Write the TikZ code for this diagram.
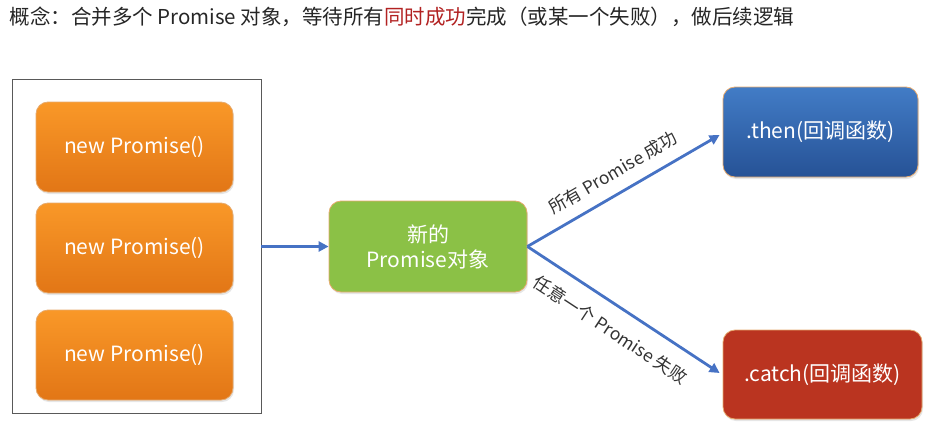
\documentclass[tikz,border=0pt]{standalone}
\usepackage{fontspec}
\setmainfont{Noto Sans CJK SC}
\usetikzlibrary{arrows.meta,shadows}
\definecolor{flowblue}{RGB}{70,114,196}
\definecolor{titlered}{RGB}{178,34,34}
\definecolor{rimtan}{RGB}{230,170,110}

\begin{document}
\begin{tikzpicture}[x=1pt,y=-1pt,>=Triangle,
  box/.style={rounded corners=12pt,draw=rimtan,line width=0.8pt,text=white,
    font=\fontsize{21}{25}\selectfont,align=center,
    drop shadow={opacity=0.2,shadow xshift=1pt,shadow yshift=-2pt}},
  promisebox/.style={box,top color={rgb,255:red,249;green,152;blue,40},
    bottom color={rgb,255:red,226;green,118;blue,22},
    minimum width=197pt,minimum height=90pt},
  flow/.style={->,draw=flowblue,line width=2.8pt,
    arrows={-Triangle[length=10pt,width=10pt]}},
  lbl/.style={font=\fontsize{17.5}{20}\selectfont,text=black!80,sloped}]
        \useasboundingbox (0,0) rectangle (936,431);
        \node[anchor=west,text=black!85,font=\fontsize{20.5}{24}\selectfont] (title) at (6,17)
          {概念：合并多个 Promise 对象，等待所有\textcolor{titlered}{同时成功}完成（或某一个失败），做后续逻辑};
        % left group of promises
        \node[draw=black!65,line width=0.8pt,minimum width=249pt,minimum height=334pt] (group) at (136.5,246) {};
        \node[promisebox] (p1) at (134.5,147) {new Promise()};
        \node[promisebox] (p2) at (134.5,248) {new Promise()};
        \node[promisebox] (p3) at (134.5,355) {new Promise()};
        % merged promise and callbacks
        \node[box,fill={rgb,255:red,139;green,193;blue,70},minimum width=198pt,minimum height=91pt] (merged) at (428,246.5) {新的\\Promise对象};
        \node[box,top color={rgb,255:red,66;green,124;blue,198},bottom color={rgb,255:red,38;green,82;blue,150},
          minimum width=195pt,minimum height=90pt] (then) at (820.5,132) {.then(回调函数)};
        \node[box,fill={rgb,255:red,186;green,52;blue,32},minimum width=199pt,minimum height=89pt] (catch) at (822.5,374.5) {.catch(回调函数)};
        \draw[flow] (group.east |- merged.west) -- (merged.west);
        \draw[flow] (merged.east) -- ([shift={(-3,3)}]then.west) node[lbl,midway,above=8pt] {所有 Promise 成功};
        \draw[flow] (merged.east) -- ([shift={(-3,-1.5)}]catch.west) node[lbl,midway,below=11pt] {任意一个 Promise 失败};
\end{tikzpicture}
\end{document}
